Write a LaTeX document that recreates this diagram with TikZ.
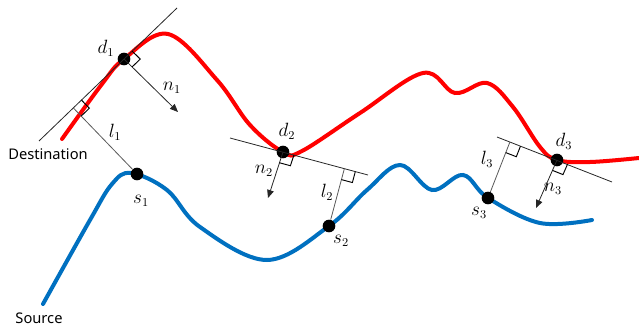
\documentclass[tikz,border=0pt]{standalone}
\usepackage{fontspec}
\setmainfont{Noto Sans}
\usetikzlibrary{calc,arrows.meta}
\definecolor{redc}{RGB}{255,0,0}
\definecolor{bluec}{RGB}{0,112,192}
\newcommand\rtbox[3]{%
  \coordinate (rbA) at ($(#1)!8.5pt!(#2)$);
  \coordinate (rbB) at ($(#1)!8.5pt!(#3)$);
  \draw[rbox] (rbA) -- ($(rbA)+(rbB)-(#1)$) -- (rbB);}
\begin{document}
\begin{tikzpicture}[x=0.75pt,y=-0.75pt,
  curve/.style={line width=3pt,line cap=round},
  dot/.style={circle,fill=black,inner sep=0pt,minimum size=9.5pt},
  tang/.style={line width=0.6pt,draw=black!85},
  perp/.style={line width=0.6pt,draw=black!65},
  nvec/.style={line width=0.6pt,draw=black!85,-{Triangle[length=6pt,width=5pt]}},
  rbox/.style={line width=0.7pt,draw=black},
  lab/.style={font=\fontsize{13.5}{15}\selectfont,inner sep=0pt},
  txt/.style={font=\fontsize{11}{13}\selectfont,inner sep=0pt}]
\useasboundingbox (0,0) rectangle (639,328);

% curves
\draw[curve,redc] plot[smooth,tension=0.6] coordinates {
  (62,139) (102,84) (124,59) (168,34) (217,80) (250,125) (283,152) (302,151)
  (360,113) (423,73) (455,93) (487,83) (513,107) (540,147) (557,160) (590,162)
  (639,158)};
\draw[curve,bluec] plot[smooth,tension=0.6] coordinates {
  (43,304) (90,220) (112,184) (131,173) (167,190) (200,227) (267,260) (329,226)
  (367,190) (400,165) (432,190) (463,175) (488,198) (540,223) (592,220)};

% points
\node[dot] (d1) at (124,59) {};
\node[dot] (d2) at (283,152) {};
\node[dot] (d3) at (557,160) {};
\node[dot] (s1) at (137,174) {};
\node[dot] (s2) at (329,226) {};
\node[dot] (s3) at (488,198) {};

% tangent lines
\coordinate (T1a) at (39,141);
\coordinate (T1b) at (177,8);
\coordinate (T2a) at (230,138);
\coordinate (T2b) at (368,175);
\coordinate (T3a) at (497,137);
\coordinate (T3b) at (612,182);
\draw[tang] (T1a) -- (T1b);
\draw[tang] (T2a) -- (T2b);
\draw[tang] (T3a) -- (T3b);

% feet of perpendiculars
\coordinate (F1) at ($(T1a)!(s1)!(T1b)$);
\coordinate (F2) at ($(T2a)!(s2)!(T2b)$);
\coordinate (F3) at ($(T3a)!(s3)!(T3b)$);
\draw[perp] (F1) -- (s1);
\draw[perp] (F2) -- (s2);
\draw[perp] (F3) -- (s3);

% normal vectors
\coordinate (N1) at (178,112);
\coordinate (N2) at (268,198);
\coordinate (N3) at (536,208);
\draw[nvec] (d1.center) -- (N1);
\draw[nvec] (d2.center) -- (N2);
\draw[nvec] (d3.center) -- (N3);

% right-angle marks
\rtbox{d1}{T1b}{N1}
\rtbox{d2}{T2b}{N2}
\rtbox{d3}{T3b}{N3}
\rtbox{F1}{T1b}{s1}
\rtbox{F2}{T2b}{s2}
\rtbox{F3}{T3b}{s3}

% labels
\node[lab] (ld1) at (106,48) {$d_1$};
\node[lab] (ln1) at (172,88) {$n_1$};
\node[lab] (ll1) at (115,132) {$l_1$};
\node[lab] (ls1) at (141,201) {$s_1$};
\node[lab] (ld2) at (287,131) {$d_2$};
\node[lab] (ln2) at (264,171) {$n_2$};
\node[lab] (ll2) at (327,192) {$l_2$};
\node[lab] (ls2) at (341,241) {$s_2$};
\node[lab] (ld3) at (564,141) {$d_3$};
\node[lab] (ll3) at (487,159) {$l_3$};
\node[lab] (ln3) at (553,189) {$n_3$};
\node[lab] (ls3) at (479,213) {$s_3$};
\node[txt] (dest) at (48,154) {Destination};
\node[txt] (src) at (39,318) {Source};
\end{tikzpicture}
\end{document}
